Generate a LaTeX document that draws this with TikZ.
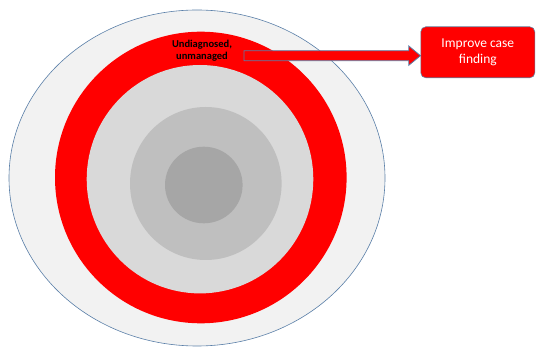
\documentclass[tikz,border=0pt]{standalone}
\usepackage{fontspec}
\setmainfont{Carlito}
\usetikzlibrary{shapes.geometric,calc}
\definecolor{ringred}{HTML}{FF0000}
\definecolor{outerfill}{HTML}{F2F2F2}
\definecolor{outline}{HTML}{5A7FA8}
\definecolor{g1}{HTML}{D9D9D9}
\definecolor{g2}{HTML}{BFBFBF}
\definecolor{g3}{HTML}{A6A6A6}
\tikzset{
  disc/.style={ellipse, inner sep=0pt, draw=none},
  actbox/.style={draw=outline!70!gray, line width=0.6pt, fill=ringred, rounded corners=5pt,
    minimum width=114pt, minimum height=51pt, inner sep=0pt, text=white, align=center,
    font=\fontsize{13.5}{16.5}\selectfont},
  blockarrow/.style={draw=outline, line width=0.8pt, fill=ringred, line join=miter},
  ringlabel/.style={align=center, font=\bfseries\fontsize{10.5}{11.7}\selectfont, inner sep=0pt}
}
\begin{document}
\begin{tikzpicture}[x=1pt,y=-1pt]
\useasboundingbox (0,0) rectangle (536,347);
\node[disc, fill=outerfill, draw=outline, line width=0.6pt, minimum width=376pt, minimum height=336pt] (outer) at (197,178) {};
\node[disc, fill=ringred, minimum width=291.6pt, minimum height=291.6pt] (ring) at (200.8,177.5) {};
\node[disc, fill=g1, minimum width=226.6pt, minimum height=228.4pt] (inner1) at (200,179.2) {};
\node[disc, fill=g2, minimum width=151.6pt, minimum height=153pt] (inner2) at (205.8,183.5) {};
\node[disc, fill=g3, minimum width=77.6pt, minimum height=76.6pt] (inner3) at (203.8,185) {};
\node[actbox] (box) at (477.8,52.3) {Improve case\\finding};
\coordinate (a0) at (244,55.7);
\coordinate (tip) at (box.west |- a0);
\draw[blockarrow] ($(a0)+(0,-5)$) -- ($(tip)+(-11.7,-5)$) -- ($(tip)+(-11.7,-9.7)$) -- (tip)
  -- ($(tip)+(-11.7,9.6)$) -- ($(tip)+(-11.7,5)$) -- ($(a0)+(0,5)$) -- cycle;
\node[ringlabel] (lbl) at (202,50.8) {Undiagnosed,\\unmanaged};
\end{tikzpicture}
\end{document}
